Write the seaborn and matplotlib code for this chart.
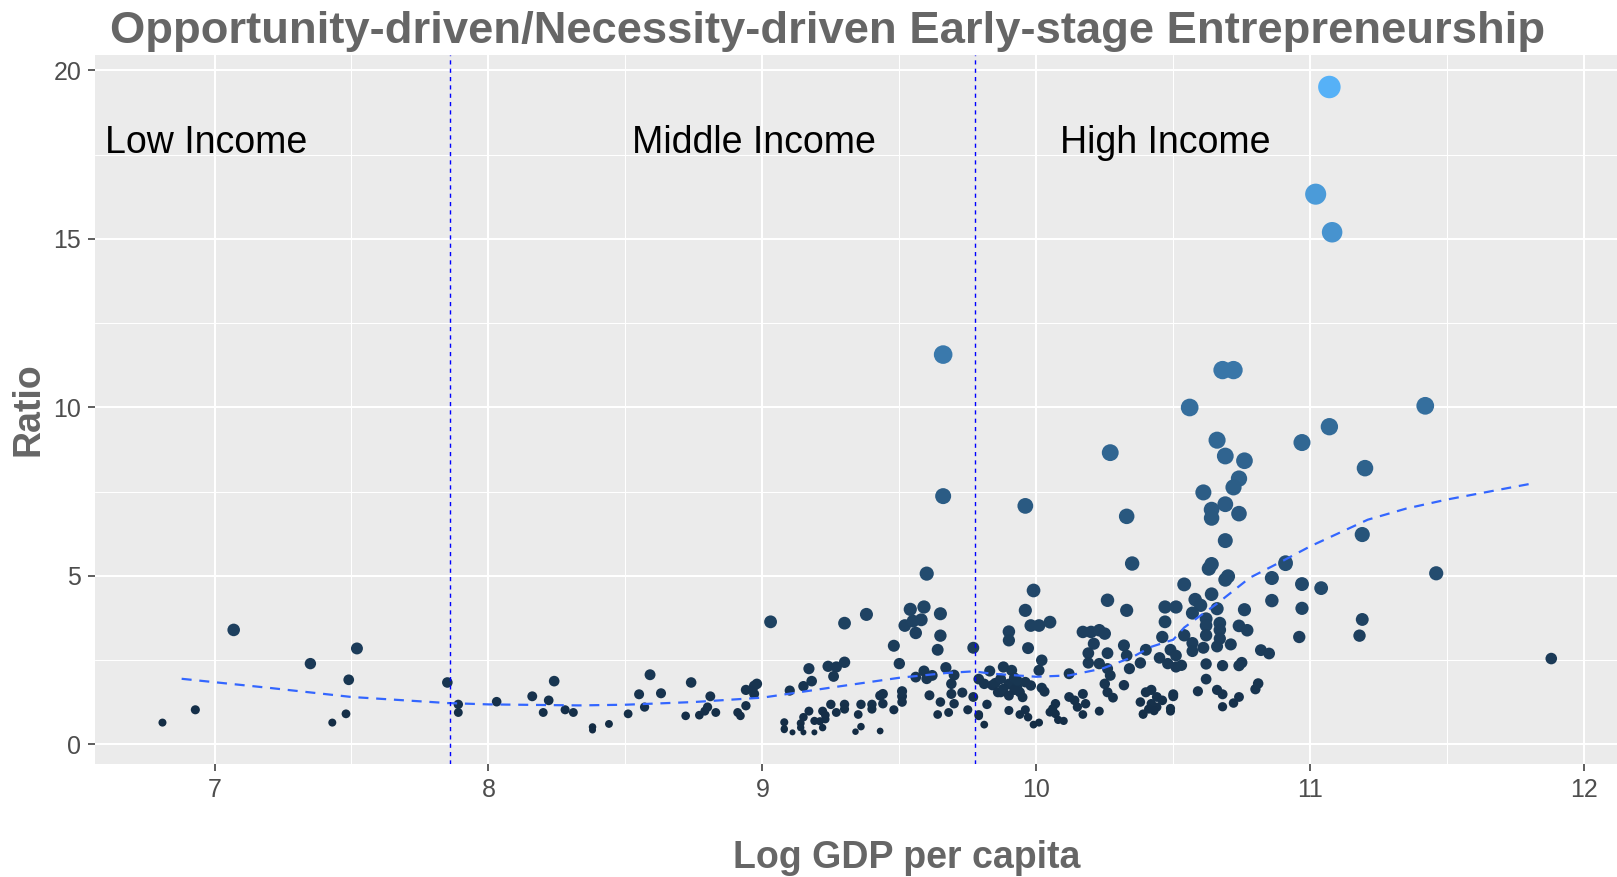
import numpy as np
import pandas as pd
import matplotlib
matplotlib.use("Agg")
import matplotlib.pyplot as plt
from matplotlib.colors import LinearSegmentedColormap
import seaborn as sns

# --- data ---
# low income countries (left of first cut)
low_gdp = [6.81, 6.93, 7.07, 7.35, 7.49, 7.52, 7.43, 7.48]
low_ratio = [0.65, 1.03, 3.40, 2.40, 1.92, 2.85, 0.65, 0.91]

# middle income countries
mid_gdp = [7.85, 7.89, 7.89, 8.03, 8.16, 8.22, 8.24, 8.20, 8.28, 8.31,
           8.38, 8.38, 8.44, 8.51, 8.55, 8.57, 8.59, 8.63, 8.72, 8.74,
           8.77, 8.79, 8.81, 8.80, 8.83, 8.91, 8.92, 8.94, 8.94, 8.97,
           8.97, 8.98, 9.03, 9.08, 9.08, 9.11, 9.15, 9.14, 9.15, 9.17,
           9.19, 9.19, 9.22, 9.22, 9.23, 9.23, 9.25, 9.27, 9.10, 9.15,
           9.17, 9.18, 9.24, 9.27, 9.26, 9.30, 9.30, 9.30, 9.30, 9.34,
           9.36, 9.35, 9.36, 9.38, 9.40, 9.40, 9.43, 9.43, 9.44, 9.44,
           9.48, 9.48, 9.50, 9.51, 9.51, 9.51, 9.52, 9.54, 9.55, 9.56,
           9.59, 9.58, 9.60, 9.56, 9.59, 9.60, 9.62, 9.61, 9.65, 9.65,
           9.64, 9.67, 9.70, 9.69, 9.65, 9.70, 9.64, 9.68, 9.73, 9.75,
           9.77, 9.77, 9.66, 9.66, 9.69, 9.08, 9.21, 9.14]
mid_ratio = [1.84, 1.19, 0.95, 1.27, 1.43, 1.31, 1.88, 0.95, 1.03, 0.95,
             0.52, 0.43, 0.61, 0.91, 1.49, 1.11, 2.07, 1.52, 0.85, 1.84,
             0.87, 0.99, 1.43, 1.11, 0.95, 0.95, 0.85, 1.15, 1.62, 1.50,
             1.74, 1.80, 3.64, 0.66, 0.47, 0.36, 0.36, 0.63, 0.81, 0.99,
             0.36, 0.70, 0.50, 0.99, 0.75, 0.87, 1.19, 0.95, 1.60, 1.73,
             2.25, 1.88, 2.32, 2.30, 2.02, 2.44, 3.60, 1.19, 1.05, 0.38,
             0.53, 0.89, 1.19, 3.86, 1.19, 1.05, 0.40, 1.45, 1.50, 1.21,
             1.03, 2.93, 2.40, 1.43, 1.58, 1.26, 3.53, 4.01, 3.66, 3.31,
             4.08, 3.70, 5.07, 2.00, 2.18, 1.95, 2.05, 1.46, 3.88, 3.23,
             2.81, 2.28, 2.06, 1.80, 1.26, 1.21, 0.89, 0.95, 1.54, 1.03,
             2.87, 1.41, 11.57, 7.37, 1.50, 0.44, 0.69, 0.50]

# high income countries
high_gdp = [9.79, 9.79, 9.81, 9.82, 9.79, 9.83, 9.81, 9.84, 9.85, 9.86,
            9.87, 9.88, 9.91, 9.90, 9.92, 9.93, 9.94, 9.92, 9.96, 9.90,
            9.94, 9.96, 9.97, 9.99, 10.01, 9.90, 9.90, 9.96, 9.99, 9.98,
            10.01, 10.05, 9.97, 10.02, 10.01, 10.02, 10.03, 10.05, 10.07, 10.07,
            10.08, 10.10, 10.06, 10.12, 10.12, 10.14, 10.15, 10.17, 10.17, 10.18,
            10.17, 10.20, 10.23, 10.25, 10.21, 10.19, 10.26, 10.19, 10.23, 10.26,
            10.27, 10.25, 10.26, 10.28, 10.23, 10.26, 10.33, 10.32, 10.33, 10.34,
            10.38, 10.32, 10.40, 10.39, 10.38, 10.40, 10.42, 10.42, 10.44, 10.46,
            10.44, 10.49, 10.50, 10.54, 10.47, 10.51, 10.47, 10.46, 10.49, 10.45,
            10.48, 10.51, 10.53, 10.54, 10.35, 9.96, 10.27, 10.33, 9.88, 9.90,
            9.93, 9.95, 9.87, 9.98, 10.39, 10.41, 10.43,
            10.69, 10.63, 10.64, 10.69, 10.70, 10.64, 10.58, 10.60, 10.57, 10.66,
            10.62, 10.62, 10.67, 10.67, 10.62, 10.67, 10.66, 10.71, 10.57, 10.57,
            10.61, 10.51, 10.62, 10.68, 10.74, 10.75, 10.76, 10.74, 10.77, 10.82,
            10.85, 10.86, 10.86, 10.91, 10.97, 11.04, 10.97, 10.96, 11.19, 11.18,
            10.62, 10.59, 10.66, 10.68, 10.68, 10.72, 10.74, 10.80, 10.81, 10.50,
            10.49, 10.68, 10.72, 10.56, 10.66, 10.69, 10.76, 10.74, 10.72, 10.61,
            10.69, 10.64, 10.64, 10.74, 10.97, 11.07, 11.20, 11.19, 11.46, 11.88,
            11.42, 11.07, 11.02, 11.08, 10.91]
high_ratio = [0.85, 0.89, 0.59, 1.19, 1.94, 2.18, 1.80, 1.76, 1.82, 1.55,
              1.55, 2.30, 2.20, 1.80, 1.98, 1.70, 1.55, 1.62, 1.85, 1.01,
              0.89, 1.03, 0.81, 0.59, 0.65, 3.35, 3.09, 3.98, 4.57, 3.53,
              3.53, 3.63, 2.86, 2.50, 2.20, 1.68, 1.57, 0.96, 1.21, 0.91,
              0.73, 0.70, 1.06, 2.10, 1.41, 1.31, 1.11, 0.89, 1.50, 1.21,
              3.34, 3.34, 3.39, 3.29, 2.99, 2.71, 2.71, 2.42, 2.40, 2.25,
              2.05, 1.80, 1.55, 1.39, 0.99, 4.28, 3.98, 2.94, 2.64, 2.25,
              2.42, 1.76, 2.81, 0.91, 1.26, 1.55, 1.62, 1.21, 1.41, 1.31,
              1.11, 0.99, 1.43, 4.75, 4.08, 4.08, 3.64, 3.19, 2.81, 2.57,
              2.40, 2.30, 2.35, 3.24, 5.37, 7.08, 8.66, 6.77, 1.65, 1.45,
              1.90, 1.40, 1.95, 1.75, 0.89, 1.05, 1.00,
              6.05, 5.22, 5.35, 4.89, 4.99, 4.46, 4.30, 4.13, 3.90, 4.03,
              3.73, 3.53, 3.60, 3.40, 3.24, 3.14, 2.91, 2.97, 3.01, 2.77,
              2.87, 2.64, 2.39, 2.34, 2.34, 2.43, 4.00, 3.52, 3.39, 2.80,
              2.70, 4.27, 4.94, 5.36, 4.76, 4.64, 4.04, 3.19, 3.71, 3.23,
              1.94, 1.58, 1.62, 1.49, 1.12, 1.23, 1.41, 1.64, 1.81, 1.49,
              1.07, 11.11, 11.11, 10.00, 9.03, 8.56, 8.42, 7.89, 7.63, 7.48,
              7.13, 6.97, 6.72, 6.85, 8.96, 9.43, 8.20, 6.23, 5.08, 2.55,
              10.05, 19.51, 16.33, 15.20, 5.40]

# dashed loess curve
smooth_gdp = [6.88, 7.2, 7.5, 7.85, 8.0, 8.33, 8.5, 8.75, 9.0, 9.26, 9.5, 9.67,
              9.77, 9.84, 10.0, 10.12, 10.24, 10.35, 10.42, 10.5, 10.54, 10.6,
              10.66, 10.78, 10.9, 11.0, 11.21, 11.35, 11.5, 11.82]
smooth_ratio = [1.95, 1.68, 1.41, 1.23, 1.19, 1.16, 1.18, 1.26, 1.39, 1.70, 1.98, 2.12,
                2.17, 2.10, 2.01, 2.05, 2.25, 2.59, 2.90, 3.11, 3.47, 3.83,
                4.18, 4.95, 5.45, 5.88, 6.67, 7.0, 7.27, 7.76]

income_cuts = [7.86, 9.776]
income_labels = ["Low Income", "Middle Income", "High Income"]
income_label_x = [6.97, 8.97, 10.47]
income_label_y = 17.85

df = pd.DataFrame({"gdp": low_gdp + mid_gdp + high_gdp,
                   "ratio": low_ratio + mid_ratio + high_ratio})

# ggplot style size scale: diameter grows with sqrt of the rescaled value
rmin, rmax = df["ratio"].min(), df["ratio"].max()
scaled = (df["ratio"] - rmin) / (rmax - rmin)
df["area"] = (0.72 * (6.0 + 16.5 * np.sqrt(scaled))) ** 2

gg_blue = LinearSegmentedColormap.from_list("gg_blue", ["#132B43", "#56B1F7"])

sns.set_theme(style="darkgrid", rc={"axes.facecolor": "#EBEBEB",
                                    "grid.color": "white",
                                    "axes.edgecolor": "none"})
plt.rcParams["font.family"] = ["Liberation Sans", "DejaVu Sans"]

fig = plt.figure(figsize=(16.17, 8.77), dpi=100)
ax = fig.add_axes([0.0588, 0.1288, 0.9412, 0.8085])

sns.scatterplot(data=df, x="gdp", y="ratio", hue="ratio", size="area",
                sizes=(df["area"].min(), df["area"].max()),
                size_norm=(df["area"].min(), df["area"].max()),
                palette=gg_blue, hue_norm=(rmin, rmax),
                linewidth=0, legend=False, ax=ax, zorder=3)

sns.lineplot(x=smooth_gdp, y=smooth_ratio, color="#3366FF", lw=1.6, ax=ax, zorder=4)
ax.lines[-1].set_dashes((4.5, 3.5))

for cut in income_cuts:
    ax.axvline(cut, color="#0000FF", lw=1.0, dashes=(3, 3), zorder=4)

for lab, lx in zip(income_labels, income_label_x):
    ax.text(lx, income_label_y, lab, ha="center", va="center",
            fontsize=27, color="black", zorder=5)

ax.set_xlim(6.564, 12.12)
ax.set_ylim(-0.58, 20.46)
ax.set_xticks([7, 8, 9, 10, 11, 12])
ax.set_xticks([7.5, 8.5, 9.5, 10.5, 11.5], minor=True)
ax.set_yticks([0, 5, 10, 15, 20])
ax.set_yticks([2.5, 7.5, 12.5, 17.5], minor=True)
ax.grid(which="major", color="white", lw=1.5)
ax.grid(which="minor", color="white", lw=0.75)
ax.tick_params(which="major", bottom=True, left=True, length=5, width=1.1,
               color="#333333", labelsize=18, labelcolor="#4D4D4D", pad=5)
ax.tick_params(which="minor", length=0)

ax.set_xlabel("Log GDP per capita", fontsize=27, fontweight="bold",
              color="#666666", va="center")
ax.xaxis.set_label_coords(0.5335, -0.1326)
ax.set_ylabel("Ratio", fontsize=27, fontweight="bold", color="#666666", va="center")
ax.yaxis.set_label_coords(-0.044, 0.5)

fig.text(0.512, 1 - 43 / 877, "Opportunity-driven/Necessity-driven Early-stage Entrepreneurship",
         ha="center", va="baseline", fontsize=32.7, fontweight="bold", color="#666666")

fig.savefig("out.png", dpi=100)
